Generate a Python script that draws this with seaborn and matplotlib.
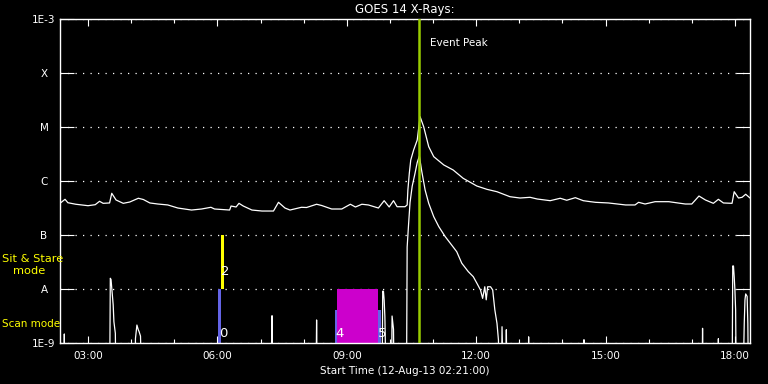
import numpy as np
import pandas as pd
import seaborn as sns
import matplotlib
matplotlib.use('Agg')
import matplotlib.pyplot as plt
from matplotlib.ticker import FixedLocator, NullLocator

###
### DATA
###

### long channel (1-8 A), upper curve
long_time = ['02:22', '02:28', '02:32', '02:43', '03:00', '03:10', '03:16', '03:21', '03:30', '03:33',
             '03:39', '03:49', '03:58', '04:10', '04:17', '04:26', '04:37', '04:51', '05:05', '05:24',
             '05:38', '05:51', '05:56', '06:17', '06:19', '06:26', '06:30', '06:36', '06:48', '07:02',
             '07:18', '07:25', '07:34', '07:41', '07:57', '08:04', '08:18', '08:25', '08:39', '08:53',
             '09:05', '09:12', '09:21', '09:30', '09:44', '09:52', '09:59', '10:05', '10:10', '10:21',
             '10:24', '10:25', '10:27', '10:29', '10:33', '10:38', '10:42', '10:47', '10:54', '11:01',
             '11:15', '11:28', '11:42', '12:01', '12:15', '12:29', '12:47', '13:01', '13:15', '13:25',
             '13:43', '13:57', '14:06', '14:18', '14:29', '14:39', '14:46', '15:04', '15:28', '15:41',
             '15:46', '15:55', '16:09', '16:28', '16:51', '17:00', '17:10', '17:19', '17:30', '17:37',
             '17:44', '17:56', '17:59', '18:05', '18:10', '18:15', '18:21']
long_flux = [3.96e-7, 4.58e-7, 3.96e-7, 3.71e-7, 3.49e-7, 3.64e-7, 4.21e-7, 3.86e-7, 3.92e-7, 5.92e-7,
             4.45e-7, 3.86e-7, 4.08e-7, 4.79e-7, 4.54e-7, 3.92e-7, 3.75e-7, 3.60e-7, 3.16e-7, 2.90e-7,
             3.03e-7, 3.26e-7, 3.03e-7, 2.90e-7, 3.44e-7, 3.30e-7, 3.86e-7, 3.44e-7, 2.90e-7, 2.78e-7,
             2.78e-7, 4.03e-7, 3.16e-7, 2.90e-7, 3.26e-7, 3.23e-7, 3.71e-7, 3.52e-7, 3.03e-7, 3.03e-7,
             3.71e-7, 3.30e-7, 3.71e-7, 3.60e-7, 3.16e-7, 4.32e-7, 3.30e-7, 4.32e-7, 3.34e-7, 3.34e-7,
             3.60e-7, 6.80e-7, 1.39e-6, 2.45e-6, 3.75e-6, 5.74e-6, 1.55e-5, 1.01e-5, 4.32e-6, 2.82e-6,
             1.98e-6, 1.60e-6, 1.12e-6, 8.07e-7, 7.01e-7, 6.33e-7, 5.12e-7, 4.84e-7, 4.99e-7, 4.64e-7,
             4.32e-7, 4.79e-7, 4.40e-7, 4.91e-7, 4.32e-7, 4.14e-7, 4.03e-7, 3.92e-7, 3.60e-7, 3.60e-7,
             4.03e-7, 3.75e-7, 4.14e-7, 4.14e-7, 3.75e-7, 3.75e-7, 5.27e-7, 4.45e-7, 3.86e-7, 4.58e-7,
             3.92e-7, 3.86e-7, 6.33e-7, 4.84e-7, 4.99e-7, 5.68e-7, 4.84e-7]

### short channel (0.5-4 A), lower curve; 1e-10 = below the plot floor
short_time = ['02:26', '02:27', '02:28', '03:30', '03:31', '03:32', '03:35', '03:36', '03:38', '03:39',
              '04:05', '04:06', '04:08', '04:10', '04:11', '04:13', '04:15', '07:15', '07:16', '07:17',
              '08:17', '08:18', '08:19', '09:49', '09:50', '09:51', '09:52', '09:53', '09:55', '10:02',
              '10:03', '10:05', '10:06', '10:23', '10:24', '10:26', '10:28', '10:31', '10:35', '10:38',
              '10:41', '10:44', '10:49', '10:54', '11:01', '11:08', '11:17', '11:26', '11:33', '11:40',
              '11:49', '11:56', '12:01', '12:06', '12:09', '12:12', '12:14', '12:16', '12:20', '12:23',
              '12:26', '12:29', '12:31', '12:32', '12:35', '12:36', '12:38', '12:41', '12:42', '12:43',
              '13:12', '13:13', '13:14', '14:29', '14:30', '14:31', '17:14', '17:15', '17:16', '17:36',
              '17:37', '17:38', '17:56', '17:57', '17:58', '17:59', '18:00', '18:01', '18:02', '18:11',
              '18:13', '18:14', '18:15', '18:17', '18:18', '18:19']
short_flux = [1e-10, 1.47e-9, 1e-10, 1e-10, 1.58e-8, 1.50e-8, 5.06e-9, 2.48e-9, 1.51e-9, 1e-10,
              1e-10, 1.22e-9, 2.15e-9, 1.74e-9, 1.63e-9, 1.34e-9, 1e-10, 1e-10, 3.2e-9, 1e-10,
              1e-10, 2.67e-9, 1e-10, 1e-10, 9.1e-9, 9.1e-9, 6.25e-9, 3.07e-9, 1e-10, 1e-10,
              3.16e-9, 1.8e-9, 1e-10, 1e-10, 6.0e-8, 1.6e-7, 4.0e-7, 8.0e-7, 1.4e-6, 2.2e-6,
              2.9e-6, 1.6e-6, 6.8e-7, 3.86e-7, 2.18e-7, 1.43e-7, 9.3e-8, 6.5e-8, 4.9e-8, 3.0e-8,
              2.1e-8, 1.69e-8, 1.28e-8, 9.6e-9, 6.7e-9, 1.1e-8, 6.3e-9, 1.1e-8, 1.1e-8, 9.6e-9,
              4.1e-9, 2.3e-9, 1.14e-9, 1e-10, 1e-10, 2.0e-9, 1e-10, 1e-10, 1.76e-9, 1e-10,
              1e-10, 1.3e-9, 1e-10, 1e-10, 1.15e-9, 1e-10, 1e-10, 1.87e-9, 1e-10, 1e-10,
              1.2e-9, 1e-10, 1e-10, 2.67e-8, 2.67e-8, 1.69e-8, 9.6e-9, 4.1e-9, 1e-10, 1e-10,
              2.3e-9, 6.3e-9, 8.1e-9, 7.3e-9, 2.3e-9, 1e-10]

### observing mode windows
mode_start = ['06:01', '06:05', '08:44', '08:47', '09:44']
mode_end = ['06:05', '06:09', '08:47', '09:44', '09:48']
mode_low = [1e-9, 1e-8, 1e-9, 1e-9, 1e-9]
mode_high = [1e-8, 1e-7, 4.1e-9, 1e-8, 4.1e-9]
mode_color = ['#6464e6', '#ffff00', '#6464e6', '#cc00cc', '#6464e6']

### numbers written beside the windows
num_text = ['0', '2', '4', '5']
num_time = ['06:02', '06:05', '08:44', '09:44']
num_flux = [1.5e-9, 2.1e-8, 1.5e-9, 1.5e-9]

peak_time = '10:41'
start_label = '12-Aug-13 02:21:00'

ytick_vals = [1e-9, 1e-8, 1e-7, 1e-6, 1e-5, 1e-4, 1e-3]
ytick_text = ['1E-9', 'A', 'B', 'C', 'M', 'X', '1E-3']


def hrs(s):
    h, m = s.split(':')
    return int(h) + int(m) / 60.0


###
### PLOT
###

sns.set_theme(style='dark', rc={'figure.facecolor': 'black', 'axes.facecolor': 'black',
                                'axes.edgecolor': 'white', 'text.color': 'white',
                                'xtick.color': 'white', 'ytick.color': 'white',
                                'axes.labelcolor': 'white', 'axes.grid': False,
                                'axes.linewidth': 1.0})
plt.rcParams['font.family'] = ['DejaVu Sans']

df = pd.concat([
    pd.DataFrame({'time': [hrs(t) for t in long_time], 'flux': long_flux, 'channel': 'long'}),
    pd.DataFrame({'time': [hrs(t) for t in short_time], 'flux': short_flux, 'channel': 'short'}),
])

fig, ax = plt.subplots(figsize=(7.68, 3.84), dpi=100)
fig.subplots_adjust(left=60 / 768, right=750 / 768, bottom=1 - 343 / 384, top=1 - 19 / 384)

for s, e, lo, hi, c in zip(mode_start, mode_end, mode_low, mode_high, mode_color):
    ax.fill_between([hrs(s), hrs(e)], lo, hi, color=c, lw=0, zorder=1)

sns.lineplot(data=df, x='time', y='flux', hue='channel', palette=['white', 'white'],
             estimator=None, sort=False, legend=False, lw=0.9, ax=ax, zorder=3)

ax.axvline(hrs(peak_time), color='#99cc00', lw=1.8, zorder=4)
ax.annotate('Event Peak', xy=(hrs(peak_time), 1e-3), xytext=(8, -17),
            textcoords='offset points', va='center', ha='left', fontsize=7.5, color='white')

for t, tm, f in zip(num_text, num_time, num_flux):
    ax.text(hrs(tm), f, t, color='white', fontsize=9.5, ha='left', va='center', zorder=5)

ax.set_yscale('log')
ax.set_ylim(1e-9, 1e-3)
ax.set_xlim(hrs('02:21'), hrs('18:21'))
ax.yaxis.set_major_locator(FixedLocator(ytick_vals))
ax.yaxis.set_minor_locator(NullLocator())
ax.set_yticklabels(ytick_text)
for lab in ax.get_yticklabels():
    lab.set_horizontalalignment('center')
ax.yaxis.grid(True, linestyle=(0, (1, 5)), color='white', lw=0.9)

ax.xaxis.set_major_locator(FixedLocator([3, 6, 9, 12, 15, 18]))
ax.xaxis.set_minor_locator(FixedLocator(list(range(3, 19))))
ax.set_xticklabels(['%02d:00' % h for h in [3, 6, 9, 12, 15, 18]])

ax.tick_params(axis='y', which='major', direction='in', length=10, width=0.8,
               left=True, right=True, pad=11.5, labelsize=7.5)
ax.tick_params(axis='x', which='major', direction='in', length=5, width=0.8,
               bottom=True, top=True, pad=6, labelsize=7.5)
ax.tick_params(axis='x', which='minor', direction='in', length=3, width=0.8,
               bottom=True, top=True)

ax.set_xlabel('Start Time (' + start_label + ')', fontsize=7.5, labelpad=3)
ax.set_ylabel('')
ax.set_title('GOES 14 X-Rays:', fontsize=8.5, pad=4, color='white')

fig.text(2 / 768, 1 - 259 / 384, 'Sit & Stare', color='#ffff00', fontsize=8.2, va='center', ha='left')
fig.text(13 / 768, 1 - 271 / 384, 'mode', color='#ffff00', fontsize=8.2, va='center', ha='left')
fig.text(2 / 768, 1 - 324 / 384, 'Scan mode', color='#ffff00', fontsize=7.5, va='center', ha='left')

fig.savefig('out.png', dpi=100, facecolor='black')
